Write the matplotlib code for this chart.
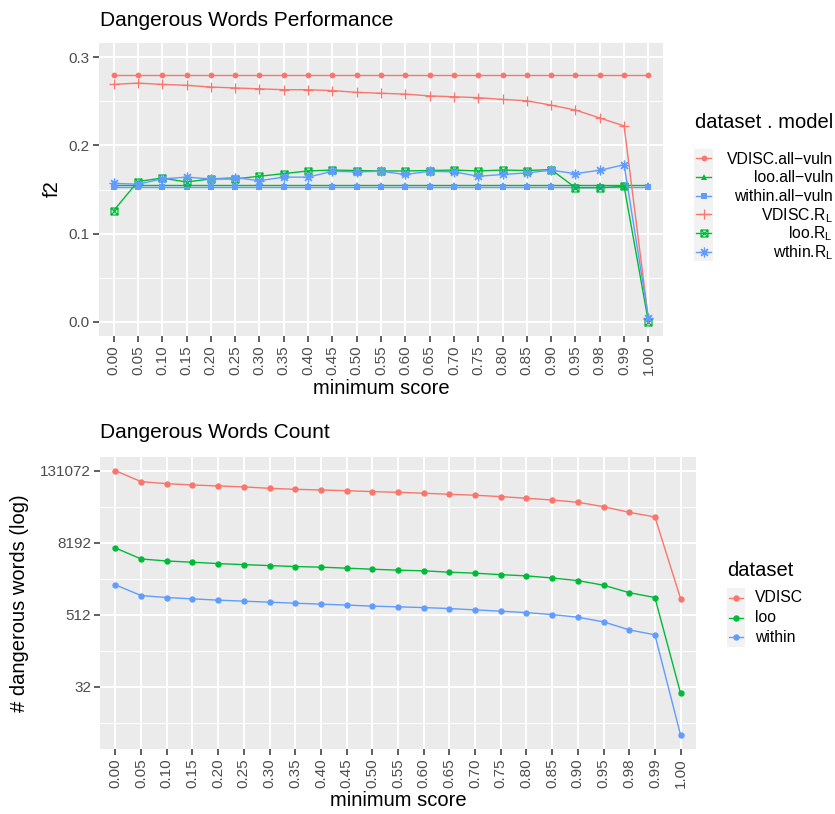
import numpy as np
import matplotlib
matplotlib.use('Agg')
import matplotlib.pyplot as plt
from matplotlib.lines import Line2D
from matplotlib.patches import Rectangle
from matplotlib.path import Path
from matplotlib.ticker import NullLocator, FixedLocator, NullFormatter

plt.rcParams['font.family'] = ['Liberation Sans', 'DejaVu Sans']
plt.rcParams['mathtext.fontset'] = 'custom'
plt.rcParams['mathtext.rm'] = 'Liberation Sans'
plt.rcParams['mathtext.it'] = 'Liberation Sans:italic'

# data
scores = ['0.00', '0.05', '0.10', '0.15', '0.20', '0.25', '0.30', '0.35', '0.40', '0.45',
          '0.50', '0.55', '0.60', '0.65', '0.70', '0.75', '0.80', '0.85', '0.90', '0.95',
          '0.98', '0.99', '1.00']

vdisc_all = [0.28, 0.28, 0.28, 0.28, 0.28, 0.28, 0.28, 0.28, 0.28, 0.28, 0.28, 0.28,
             0.28, 0.28, 0.28, 0.28, 0.28, 0.28, 0.28, 0.28, 0.28, 0.28, 0.28]
loo_all = [0.155, 0.155, 0.155, 0.155, 0.155, 0.155, 0.155, 0.155, 0.155, 0.155, 0.155, 0.155,
           0.155, 0.155, 0.155, 0.155, 0.155, 0.155, 0.155, 0.155, 0.155, 0.155, 0.155]
within_all = [0.153, 0.153, 0.153, 0.153, 0.153, 0.153, 0.153, 0.153, 0.153, 0.153, 0.153, 0.153,
              0.153, 0.153, 0.153, 0.153, 0.153, 0.153, 0.153, 0.153, 0.153, 0.153, 0.153]
vdisc_rl = [0.269, 0.2705, 0.269, 0.268, 0.266, 0.265, 0.264, 0.263, 0.263, 0.262, 0.260, 0.259,
            0.258, 0.256, 0.255, 0.254, 0.252, 0.2505, 0.2455, 0.240, 0.231, 0.222, 0.003]
loo_rl = [0.126, 0.159, 0.163, 0.1585, 0.162, 0.162, 0.165, 0.168, 0.171, 0.172, 0.1715, 0.171,
          0.171, 0.1715, 0.172, 0.171, 0.172, 0.1715, 0.1725, 0.152, 0.152, 0.1537, 0.0]
within_rl = [0.157, 0.156, 0.162, 0.164, 0.162, 0.1635, 0.160, 0.164, 0.164, 0.1706, 0.170, 0.1706,
             0.167, 0.1706, 0.170, 0.165, 0.167, 0.1688, 0.1718, 0.168, 0.1718, 0.178, 0.005]

vdisc_count = [131000, 86000, 79500, 75700, 72800, 70200, 66500, 64000, 62400, 60700, 58600, 57100,
               55100, 52900, 51000, 48300, 45400, 42400, 38900, 32800, 26400, 22100, 955]
loo_count = [6700, 4390, 4060, 3870, 3670, 3530, 3400, 3280, 3200, 3080, 2960, 2850,
             2780, 2640, 2540, 2400, 2290, 2110, 1910, 1600, 1200, 995, 25]
within_count = [1620, 1075, 995, 945, 900, 865, 832, 800, 772, 744, 715, 695,
                676, 651, 619, 588, 557, 516, 467, 390, 287, 237, 5]

perf_labels = ['VDISC.all\u2212vuln', 'loo.all\u2212vuln', 'within.all\u2212vuln',
               r'VDISC.R$_\mathregular{L}$', r'loo.R$_\mathregular{L}$', r'wthin.R$_\mathregular{L}$']
count_labels = ['VDISC', 'loo', 'within']

red, green, blue = '#F8766D', '#00BA38', '#619CFF'

box_x = Path([(-1, -1), (1, -1), (1, 1), (-1, 1), (-1, -1), (-1, -1), (1, 1), (-1, 1), (1, -1)],
             [Path.MOVETO, Path.LINETO, Path.LINETO, Path.LINETO, Path.CLOSEPOLY,
              Path.MOVETO, Path.LINETO, Path.MOVETO, Path.LINETO])

perf_styles = [
    (vdisc_all, red, dict(marker='o', ms=4.2, mew=0)),
    (loo_all, green, dict(marker='^', ms=4.2, mew=0)),
    (within_all, blue, dict(marker='s', ms=4.0, mew=0)),
    (vdisc_rl, red, dict(marker='+', ms=7, mew=0.9)),
    (loo_rl, green, dict(marker=box_x, ms=5, mew=0.9, mfc='none')),
    (within_rl, blue, dict(marker=(8, 2, 0), ms=7, mew=0.9)),
]

W, H = 835, 814
fig = plt.figure(figsize=(W / 100, H / 100), dpi=100)


def fx(x):
    return x / W


def fy(y):
    return 1 - y / H


def style(ax):
    ax.set_facecolor('#EBEBEB')
    for s in ax.spines.values():
        s.set_visible(False)
    ax.xaxis.set_minor_locator(NullLocator())
    ax.grid(which='major', color='white', lw=1.4)
    ax.grid(which='minor', axis='y', color='white', lw=0.7)
    ax.set_axisbelow(True)
    ax.tick_params(which='major', length=4, width=1.1, color='#333333',
                   labelcolor='#4D4D4D', labelsize=11, pad=2.5)
    ax.tick_params(which='minor', length=0)
    ax.set_xticks(range(len(scores)))
    ax.set_xticklabels(scores, rotation=90)
    ax.set_xlim(-0.6, len(scores) - 0.4)


# top panel
ax1 = fig.add_axes([fx(99), fy(336), fx(663 - 99), (336 - 43) / H])
style(ax1)
x = np.arange(len(scores))
for vals, col, mk in perf_styles:
    ax1.plot(x, vals, color=col, lw=1.0, **mk)
ax1.set_ylim(-0.0159, 0.3159)
ax1.set_yticks([0.0, 0.1, 0.2, 0.3])
ax1.set_yticklabels(['0.0', '0.1', '0.2', '0.3'])
ax1.yaxis.set_minor_locator(FixedLocator([0.05, 0.15, 0.25]))

fig.text(fx(100), fy(20), 'Dangerous Words Performance', fontsize=15, ha='left', va='center')
fig.text(fx(52), fy(189), 'f2', fontsize=14.5, rotation=90, ha='center', va='center')
fig.text(fx(381), fy(389), 'minimum score', fontsize=14.5, ha='center', va='center')

# bottom panel
ax2 = fig.add_axes([fx(100), fy(749), fx(696 - 100), (749 - 457) / H])
style(ax2)
for vals, col in [(vdisc_count, red), (loo_count, green), (within_count, blue)]:
    ax2.plot(x, vals, color=col, lw=1.0, marker='o', ms=4.6, mew=0)
ax2.set_yscale('log', base=2)
ax2.set_ylim(2 ** 1.55, 2 ** 17.76)
ax2.yaxis.set_major_locator(FixedLocator([32, 512, 8192, 131072]))
ax2.set_yticklabels(['32', '512', '8192', '131072'])
ax2.yaxis.set_minor_locator(FixedLocator([8, 128, 2048, 32768]))
ax2.yaxis.set_minor_formatter(NullFormatter())
ax2.grid(which='minor', axis='y', color='white', lw=0.7)

fig.text(fx(100), fy(433), 'Dangerous Words Count', fontsize=15, ha='left', va='center')
fig.text(fx(20), fy(603), '# dangerous words (log)', fontsize=14.5, rotation=90, ha='center', va='center')
fig.text(fx(398), fy(801), 'minimum score', fontsize=14.5, ha='center', va='center')


# legends drawn by hand to get ggplot's layout
def key(x0, x1, yc, h, col, mk):
    fig.add_artist(Rectangle((fx(x0), fy(yc + h / 2)), fx(x1 - x0), h / H,
                             transform=fig.transFigure, facecolor='#F2F2F2', edgecolor='none'))
    fig.add_artist(Line2D([fx(x0 + 2), fx(x1 - 2)], [fy(yc), fy(yc)], transform=fig.transFigure,
                          color=col, lw=1.0))
    fig.add_artist(Line2D([fx((x0 + x1) / 2)], [fy(yc)], transform=fig.transFigure,
                          color=col, lw=0, **mk))


fig.text(fx(695), fy(123), 'dataset . model', fontsize=14.5, ha='left', va='center')
rows = [158, 176.8, 195.6, 214.4, 233.2, 252]
for yc, lab, (vals, col, mk) in zip(rows, perf_labels, perf_styles):
    key(694, 713, yc, 18.8, col, mk)
    fig.text(fx(833), fy(yc + 5.5), lab, fontsize=11.3, ha='right', va='baseline')

fig.text(fx(727), fy(570), 'dataset', fontsize=14.5, ha='left', va='center')
rows = [598, 617.7, 637.4]
for yc, lab, col in zip(rows, count_labels, [red, green, blue]):
    key(727, 745, yc, 19.7, col, dict(marker='o', ms=4.6, mew=0))
    fig.text(fx(755), fy(yc), lab, fontsize=11.3, ha='left', va='center')

fig.savefig('out.png', dpi=100)
